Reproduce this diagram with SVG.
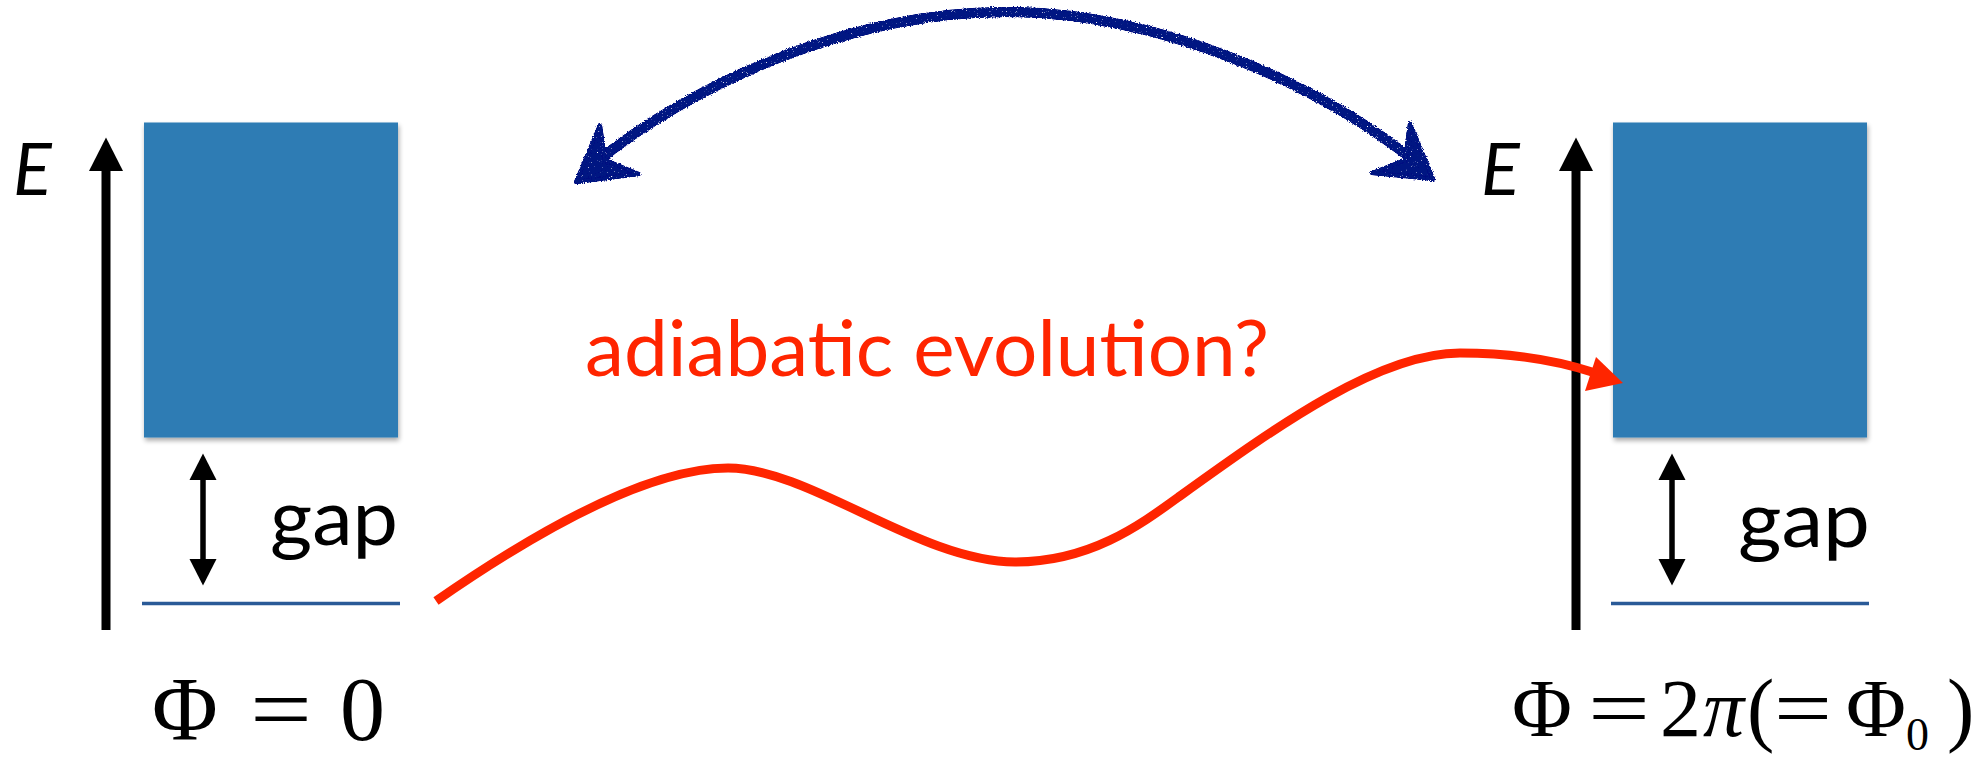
<svg xmlns="http://www.w3.org/2000/svg" width="1980" height="758" viewBox="0 0 1980 758">
<defs>
<style>
.axis{stroke:#000;stroke-width:9;fill:none}
.gaparrow{stroke:#000;stroke-width:5.5;fill:none}
.band{fill:#2e7bb4}
.level{stroke:#2a5a97;stroke-width:3.5}
.gaptxt{font-family:Lato,"Noto Sans",sans-serif;font-size:78px;fill:#000}
.etxt{font-family:Lato,"Noto Sans",sans-serif;font-style:italic;font-size:72px;fill:#000}
.math{font-family:"Liberation Serif","Times New Roman",serif;fill:#000}
.red{stroke:#ff2500;stroke-width:9;fill:none;stroke-linecap:butt}
.redtxt{font-family:Lato,"Noto Sans",sans-serif;font-size:78px;fill:#ff2500}
.crayon{stroke:#001282;stroke-width:10;fill:none;stroke-linecap:round}
</style>
<marker id="axhead" markerUnits="userSpaceOnUse" markerWidth="36" markerHeight="36" viewBox="-1 -18 36 36" refX="0" refY="0" orient="auto">
<path d="M0,-17 L33.5,0 L0,17 Z" fill="#000"/>
</marker>
<marker id="gaphead" markerUnits="userSpaceOnUse" markerWidth="28" markerHeight="30" viewBox="-1 -15 28 30" refX="0" refY="0" orient="auto-start-reverse">
<path d="M0,-13.5 L26.5,0 L0,13.5 Z" fill="#000"/>
</marker>
<filter id="shadow" x="-10%" y="-10%" width="120%" height="120%">
<feGaussianBlur in="SourceAlpha" stdDeviation="2.5"/>
<feOffset dx="1" dy="3" result="b"/>
<feComponentTransfer><feFuncA type="linear" slope="0.35"/></feComponentTransfer>
<feMerge><feMergeNode/><feMergeNode in="SourceGraphic"/></feMerge>
</filter>
<filter id="rough" x="-5%" y="-30%" width="110%" height="160%">
<feTurbulence type="fractalNoise" baseFrequency="0.8" numOctaves="2" seed="4" result="n"/>
<feDisplacementMap in="SourceGraphic" in2="n" scale="3.5" xChannelSelector="R" yChannelSelector="G" result="d"/>
<feTurbulence type="fractalNoise" baseFrequency="1.2" numOctaves="1" seed="9" result="n2"/>
<feColorMatrix in="n2" type="matrix" values="0 0 0 0 0 0 0 0 0 0 0 0 0 0 0 -6 0 0 0 4.7" result="m"/>
<feComposite in="d" in2="m" operator="in" result="c"/>
<feComponentTransfer in="c"><feFuncA type="linear" slope="1.6"/></feComponentTransfer>
</filter>
</defs>
<rect width="1980" height="758" fill="#fff"/>

<g id="left-panel">
<text class="etxt" x="13" y="194.5">E</text>
<line class="axis" x1="106" y1="630" x2="106" y2="171" marker-end="url(#axhead)"/>
<rect class="band" x="144" y="122.5" width="254" height="315" filter="url(#shadow)"/>
<line class="gaparrow" x1="203" y1="559" x2="203" y2="480" marker-start="url(#gaphead)" marker-end="url(#gaphead)"/>
<text class="gaptxt" x="270" y="545" textLength="128" lengthAdjust="spacingAndGlyphs">gap</text>
<line class="level" x1="142" y1="603.5" x2="400" y2="603.5"/>
<text class="math" font-size="90" y="740"><tspan x="152">Φ</tspan><tspan x="250" textLength="62" lengthAdjust="spacingAndGlyphs">=</tspan><tspan x="340">0</tspan></text>
</g>

<g id="right-panel">
<text class="etxt" x="1481" y="194.5">E</text>
<line class="axis" x1="1576" y1="630" x2="1576" y2="171" marker-end="url(#axhead)"/>
<rect class="band" x="1613" y="122.5" width="254" height="315" filter="url(#shadow)"/>
<line class="gaparrow" x1="1672" y1="559" x2="1672" y2="480" marker-start="url(#gaphead)" marker-end="url(#gaphead)"/>
<text class="gaptxt" x="1738" y="547" textLength="132" lengthAdjust="spacingAndGlyphs">gap</text>
<line class="level" x1="1611" y1="603.5" x2="1869" y2="603.5"/>
<text class="math" font-size="82" y="736"><tspan x="1512">Φ</tspan><tspan x="1588" textLength="62" lengthAdjust="spacingAndGlyphs">=</tspan><tspan x="1660">2</tspan><tspan x="1703" font-style="italic">π</tspan><tspan x="1747">(</tspan><tspan x="1774" textLength="58" lengthAdjust="spacingAndGlyphs">=</tspan><tspan x="1846">Φ</tspan><tspan x="1906" font-size="46" dy="14">0</tspan><tspan x="1947" dy="-14">)</tspan></text>
</g>

<g id="label">
<text class="redtxt" x="585" y="376" textLength="684" lengthAdjust="spacingAndGlyphs">adiabatic evolution?</text>
</g>

<g id="connectors">
<path class="red" d="M436,601 C560,515 660,468 728,468 C810,468 920,562 1015,562 C1090,562 1140,525 1180,496 C1280,424 1380,353 1460,353 C1510,353 1555,360 1592,372"/>
<polygon points="1623,383 1596,357 1585,391" fill="#ff2500"/>
<g filter="url(#rough)">
<path class="crayon" d="M594,164 C690,85 850,12 1005,12 C1160,12 1320,85 1416,162"/>
<polygon points="576,182 600,125 605,160 639,174" fill="#001282" stroke="#001282" stroke-width="4" stroke-linejoin="round"/>
<polygon points="1433,179 1410,123 1405,160 1372,173" fill="#001282" stroke="#001282" stroke-width="4" stroke-linejoin="round"/>
</g>
</g>
</svg>
